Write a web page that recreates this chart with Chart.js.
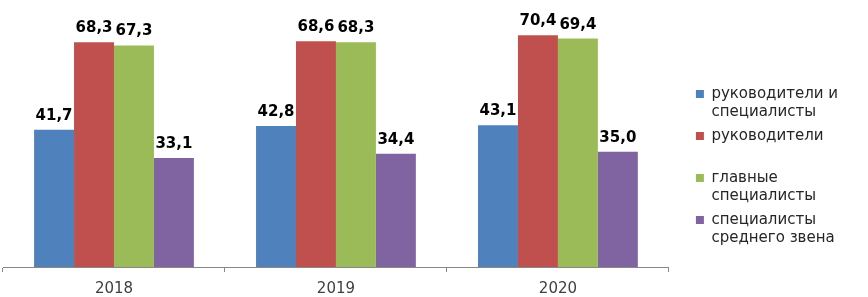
<!DOCTYPE html>
<html><head><meta charset="utf-8">
<script src="https://cdn.jsdelivr.net/npm/chart.js@4/dist/chart.umd.min.js"></script>
<style>html,body{margin:0;padding:0;background:#fff}#wrap{width:868px;height:297px}</style>
</head><body><div id="wrap"><canvas id="c"></canvas></div>
<script>
const categories = ['2018', '2019', '2020'];
const seriesNames = ['руководители и специалисты', 'руководители', 'главные специалисты', 'специалисты среднего звена'];
const legendLines = [['руководители и', 'специалисты'], ['руководители', ''], ['главные', 'специалисты'], ['специалисты', 'среднего звена']];
const managersAndSpecialists = [41.7, 42.8, 43.1];
const managers = [68.3, 68.6, 70.4];
const chiefSpecialists = [67.3, 68.3, 69.4];
const midLevelSpecialists = [33.1, 34.4, 35.0];

const seriesValues = [managersAndSpecialists, managers, chiefSpecialists, midLevelSpecialists];
const seriesColors = ['#4F81BD', '#C0504D', '#9BBB59', '#8064A2'];

const valueLabels = {
  id: 'valueLabels',
  afterDatasetsDraw(chart) {
    const ctx = chart.ctx;
    ctx.save();
    ctx.font = 'bold 15px "DejaVu Sans"';
    ctx.fillStyle = '#000000';
    ctx.textAlign = 'center';
    ctx.textBaseline = 'alphabetic';
    chart.data.datasets.forEach((ds, i) => {
      chart.getDatasetMeta(i).data.forEach((bar, j) => {
        ctx.fillText(ds.data[j].toFixed(1).replace('.', ','), bar.x, bar.y - 10);
      });
    });
    ctx.restore();
  }
};

new Chart(document.getElementById('c'), {
  type: 'bar',
  data: {
    labels: categories,
    datasets: seriesNames.map((name, i) => ({
      label: name,
      data: seriesValues[i],
      backgroundColor: seriesColors[i],
      borderWidth: 0,
      categoryPercentage: 0.72,
      barPercentage: 1.0
    }))
  },
  options: {
    responsive: true,
    maintainAspectRatio: false,
    animation: false,
    devicePixelRatio: 1,
    layout: { padding: { top: 30, left: 3, right: 20, bottom: 0 } },
    plugins: {
      tooltip: { enabled: false },
      legend: {
        position: 'right',
        align: 'center',
        title: { display: true, text: '', padding: 0, font: { size: 8, lineHeight: 1 } },
        labels: {
          boxWidth: 8,
          boxHeight: 8,
          padding: 6,
          color: '#262626',
          font: { family: 'DejaVu Sans', size: 15, lineHeight: 18 / 15 },
          generateLabels(chart) {
            const items = Chart.defaults.plugins.legend.labels.generateLabels(chart);
            items.forEach((it, i) => { it.text = legendLines[i]; it.lineWidth = 0; });
            return items;
          }
        }
      }
    },
    scales: {
      x: {
        grid: { display: true, drawOnChartArea: false, drawTicks: true, tickLength: 5, color: '#888888', offset: true },
        border: { display: true, color: '#888888' },
        ticks: { font: { family: 'DejaVu Sans', size: 15 }, color: '#404040', padding: 8 },
        afterFit(s) { s.height = 30; }
      },
      y: { display: false, min: 0, max: 72 },
      y2: {
        position: 'right', display: true,
        ticks: { display: false }, grid: { display: false }, border: { display: false },
        afterFit(s) { s.width = 21; }
      }
    }
  },
  plugins: [valueLabels]
});
</script>
</body></html>
